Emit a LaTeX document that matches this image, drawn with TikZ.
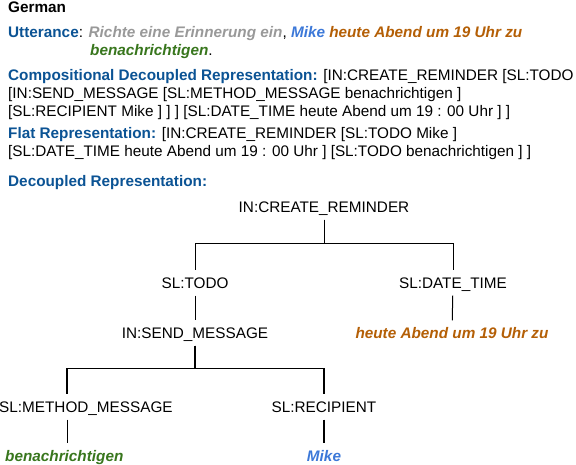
\documentclass[tikz,border=0pt]{standalone}
\usepackage{fontspec}
\setmainfont{Liberation Sans}
\usetikzlibrary{positioning}

\definecolor{headblue}{HTML}{0B5394}
\definecolor{uttgray}{HTML}{999999}
\definecolor{mikeblue}{HTML}{3C78D8}
\definecolor{timeorange}{HTML}{B45F06}
\definecolor{todogreen}{HTML}{38761D}

\newcommand{\hd}[1]{\textbf{\color{headblue}#1}}
\newcommand{\bi}[2]{\textbf{\textit{\color{#1}#2}}}

\begin{document}
\begin{tikzpicture}[
    x=1pt, y=-1pt,
    every node/.style={font=\fontsize{15.3}{18}\selectfont},
    textline/.style={anchor=base west, inner sep=0pt},
    tag/.style={text height=11pt, text depth=0pt, inner xsep=2pt, inner ysep=7pt},
    leaf/.style={tag, font=\fontsize{15.3}{18}\selectfont\bfseries\itshape},
    branch/.style={draw, line width=1pt}
]
\useasboundingbox (0,0) rectangle (576,464);

% Text
\node[textline] (lang) at (8,12) {\textbf{German}};
\node[textline] (utt1) at (8,37) {\hd{Utterance}: \bi{uttgray}{Richte eine Erinnerung ein}, \bi{mikeblue}{Mike} \bi{timeorange}{heute Abend um 19 Uhr zu}};
\node[textline] (utt2) at (90,55) {\bi{todogreen}{benachrichtigen}.};
\node[textline] (comp1) at (8,80) {\hd{Compositional Decoupled Representation:} [IN:CREATE\_REMINDER [SL:TODO};
\node[textline] (comp2) at (8,98) {[IN:SEND\_MESSAGE [SL:METHOD\_MESSAGE benachrichtigen ]};
\node[textline] (comp3) at (8,116) {[SL:RECIPIENT Mike ] ] ] [SL:DATE\_TIME heute Abend um 19 : 00 Uhr ] ]};
\node[textline] (flat1) at (8,138) {\hd{Flat Representation:} [IN:CREATE\_REMINDER [SL:TODO Mike ]};
\node[textline] (flat2) at (8,156) {[SL:DATE\_TIME heute Abend um 19 : 00 Uhr ] [SL:TODO benachrichtigen ] ]};
\node[textline] (dec) at (8,186) {\hd{Decoupled Representation:}};

% Tree
\node[tag] (root) at (324,207) {IN:CREATE\_REMINDER};
\node[tag] (todo) at (195,283) {SL:TODO};
\node[tag] (datetime) at (453,283) {SL:DATE\_TIME};
\node[tag] (send) at (195,333) {IN:SEND\_MESSAGE};
\node[leaf, text=timeorange] (timeleaf) at (452,333) {heute Abend um 19 Uhr zu};
\node[tag, anchor=west] (method) at (-3,407) {SL:METHOD\_MESSAGE};
\coordinate (methodx) at (67,407);
\node[tag] (recipient) at (324,407) {SL:RECIPIENT};
\node[leaf, text=todogreen, anchor=west] (methodleaf) at (3,455.5) {benachrichtigen};
\node[leaf, text=mikeblue] (mikeleaf) at (324,455.5) {Mike};

% Edges
\draw[branch] (root.south) -- ++(0,24) -| (todo.north);
\draw[branch] (root.south) -- ++(0,24) -| (datetime.north);
\draw[branch] (todo) -- (send);
\draw[branch] (datetime) -- (timeleaf);
\draw[branch, line width=1.4pt] (send.south) -- ++(0,23) -| (methodx |- method.north);
\draw[branch, line width=1.4pt] (send.south) -- ++(0,23) -| (recipient.north);
\draw[branch] (methodx |- method.south) -- (methodx |- methodleaf.north);
\draw[branch, line width=1.4pt] (recipient) -- (mikeleaf);

\end{tikzpicture}
\end{document}
